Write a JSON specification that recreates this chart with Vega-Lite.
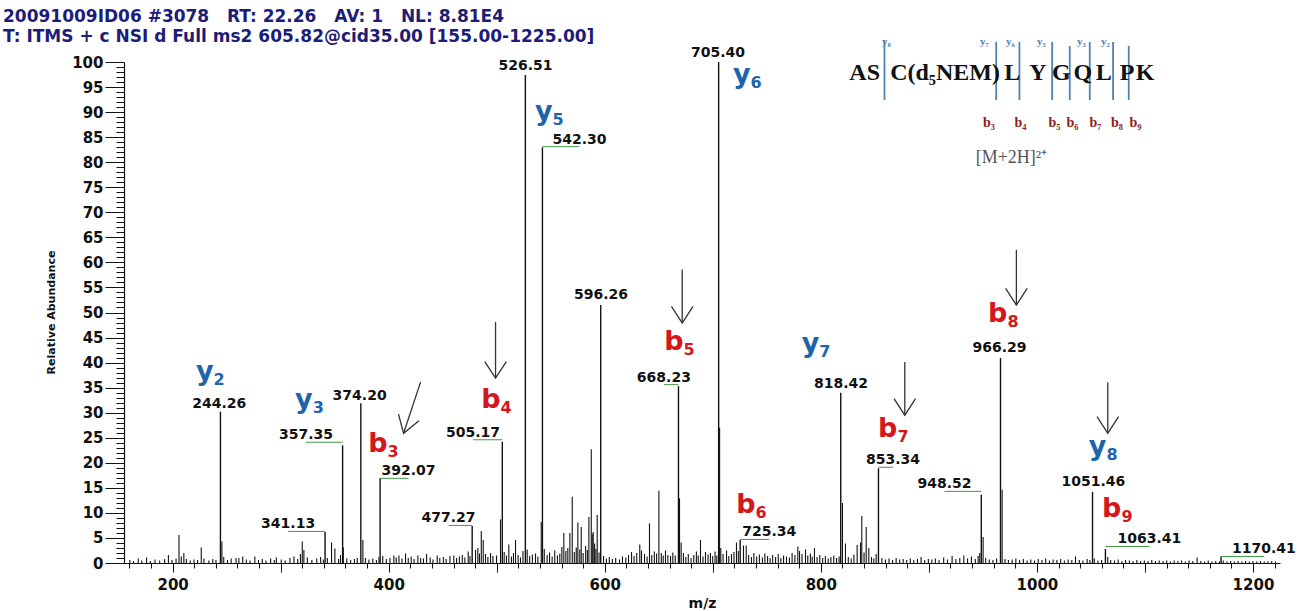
{
  "$schema": "https://vega.github.io/schema/vega-lite/v6.json",
  "width": 1156,
  "height": 501,
  "autosize": {"type": "none"},
  "padding": {"left": 124, "top": 62, "right": 35, "bottom": 48},
  "background": "white",
  "title": {
    "text": [
      "20091009ID06 #3078\u00a0\u00a0\u00a0RT: 22.26\u00a0\u00a0\u00a0AV: 1\u00a0\u00a0\u00a0NL: 8.81E4",
      "T: ITMS + c NSI d Full ms2 605.82@cid35.00 [155.00-1225.00]"
    ],
    "anchor": "start",
    "frame": "group",
    "dx": -121,
    "dy": 28,
    "offset": 18,
    "font": "DejaVu Sans",
    "fontSize": 17,
    "fontWeight": "bold",
    "color": "#1d1d78",
    "lineHeight": 20
  },
  "config": {
    "view": {"stroke": null},
    "axis": {"grid": false}
  },
  "datasets": {
    "noise": [
      {"mz": 160.4, "rel": 0.6}, {"mz": 163.8, "rel": 0.4}, {"mz": 168.2, "rel": 0.9}, {"mz": 171.5, "rel": 0.5},
      {"mz": 175.9, "rel": 1.1}, {"mz": 179.3, "rel": 0.4}, {"mz": 183.7, "rel": 0.7}, {"mz": 188.0, "rel": 0.5},
      {"mz": 192.6, "rel": 0.8}, {"mz": 196.1, "rel": 1.6}, {"mz": 199.4, "rel": 0.6}, {"mz": 203.2, "rel": 0.9},
      {"mz": 205.9, "rel": 5.6}, {"mz": 208.0, "rel": 1.3}, {"mz": 210.4, "rel": 2.0}, {"mz": 212.7, "rel": 0.8},
      {"mz": 216.3, "rel": 0.5}, {"mz": 219.8, "rel": 0.7}, {"mz": 223.1, "rel": 0.6}, {"mz": 226.5, "rel": 3.1},
      {"mz": 229.0, "rel": 0.9}, {"mz": 233.6, "rel": 0.5}, {"mz": 237.2, "rel": 0.8}, {"mz": 240.1, "rel": 0.6},
      {"mz": 245.6, "rel": 4.3}, {"mz": 247.3, "rel": 1.2}, {"mz": 250.8, "rel": 0.6}, {"mz": 254.2, "rel": 0.9},
      {"mz": 258.7, "rel": 1.0}, {"mz": 261.3, "rel": 1.0}, {"mz": 264.9, "rel": 1.3}, {"mz": 268.2, "rel": 0.7},
      {"mz": 271.6, "rel": 0.5}, {"mz": 276.1, "rel": 1.3}, {"mz": 279.5, "rel": 0.6}, {"mz": 283.0, "rel": 0.8},
      {"mz": 286.4, "rel": 0.5}, {"mz": 290.7, "rel": 0.9}, {"mz": 294.1, "rel": 0.6}, {"mz": 296.0, "rel": 1.1},
      {"mz": 300.5, "rel": 0.7}, {"mz": 304.2, "rel": 0.5}, {"mz": 308.6, "rel": 1.0}, {"mz": 312.3, "rel": 1.3},
      {"mz": 315.8, "rel": 0.8}, {"mz": 318.3, "rel": 1.8}, {"mz": 320.0, "rel": 4.3}, {"mz": 321.5, "rel": 2.6},
      {"mz": 324.7, "rel": 1.1}, {"mz": 328.9, "rel": 0.6}, {"mz": 333.4, "rel": 0.9}, {"mz": 337.0, "rel": 1.2},
      {"mz": 339.5, "rel": 0.7}, {"mz": 343.2, "rel": 1.0}, {"mz": 347.1, "rel": 4.1}, {"mz": 350.2, "rel": 2.9},
      {"mz": 353.6, "rel": 0.8}, {"mz": 355.4, "rel": 1.6}, {"mz": 358.0, "rel": 3.1}, {"mz": 361.2, "rel": 0.9},
      {"mz": 364.8, "rel": 0.6}, {"mz": 368.3, "rel": 0.8}, {"mz": 370.9, "rel": 1.0}, {"mz": 376.1, "rel": 4.6},
      {"mz": 378.4, "rel": 1.0}, {"mz": 381.7, "rel": 0.7}, {"mz": 385.3, "rel": 0.9}, {"mz": 388.6, "rel": 0.6},
      {"mz": 391.0, "rel": 1.2}, {"mz": 394.5, "rel": 1.4}, {"mz": 397.8, "rel": 0.8}, {"mz": 401.2, "rel": 1.0},
      {"mz": 404.8, "rel": 1.5}, {"mz": 407.0, "rel": 1.1}, {"mz": 409.5, "rel": 1.5}, {"mz": 412.3, "rel": 0.9},
      {"mz": 415.6, "rel": 1.9}, {"mz": 418.1, "rel": 1.0}, {"mz": 420.8, "rel": 1.3}, {"mz": 423.5, "rel": 0.8},
      {"mz": 427.0, "rel": 1.5}, {"mz": 429.6, "rel": 1.0}, {"mz": 432.2, "rel": 0.9}, {"mz": 435.1, "rel": 1.8},
      {"mz": 438.4, "rel": 1.1}, {"mz": 441.0, "rel": 0.7}, {"mz": 444.9, "rel": 1.5}, {"mz": 447.3, "rel": 1.0},
      {"mz": 450.6, "rel": 1.2}, {"mz": 453.2, "rel": 0.8}, {"mz": 456.7, "rel": 1.4}, {"mz": 460.3, "rel": 1.5},
      {"mz": 462.8, "rel": 1.0}, {"mz": 465.4, "rel": 1.3}, {"mz": 468.1, "rel": 1.6}, {"mz": 470.5, "rel": 1.1},
      {"mz": 473.6, "rel": 2.3}, {"mz": 475.2, "rel": 1.4}, {"mz": 480.4, "rel": 2.6}, {"mz": 482.5, "rel": 3.0},
      {"mz": 484.0, "rel": 1.9}, {"mz": 485.7, "rel": 6.4}, {"mz": 487.5, "rel": 4.6}, {"mz": 489.6, "rel": 1.8},
      {"mz": 491.8, "rel": 1.2}, {"mz": 494.3, "rel": 2.0}, {"mz": 496.5, "rel": 1.4}, {"mz": 499.8, "rel": 1.5},
      {"mz": 503.5, "rel": 8.7}, {"mz": 506.9, "rel": 2.2}, {"mz": 509.0, "rel": 1.5}, {"mz": 511.2, "rel": 3.7},
      {"mz": 513.6, "rel": 1.3}, {"mz": 515.5, "rel": 2.0}, {"mz": 517.4, "rel": 4.6}, {"mz": 519.8, "rel": 1.6},
      {"mz": 522.0, "rel": 1.1}, {"mz": 524.3, "rel": 2.4}, {"mz": 528.2, "rel": 2.7}, {"mz": 530.5, "rel": 1.4},
      {"mz": 533.0, "rel": 1.7}, {"mz": 535.9, "rel": 1.9}, {"mz": 538.1, "rel": 1.3}, {"mz": 541.2, "rel": 8.2},
      {"mz": 544.0, "rel": 2.8}, {"mz": 546.6, "rel": 1.6}, {"mz": 548.9, "rel": 2.1}, {"mz": 551.3, "rel": 1.3},
      {"mz": 553.7, "rel": 2.5}, {"mz": 556.2, "rel": 1.5}, {"mz": 558.4, "rel": 1.9}, {"mz": 560.3, "rel": 3.2},
      {"mz": 562.1, "rel": 6.0}, {"mz": 564.0, "rel": 2.4}, {"mz": 565.8, "rel": 3.0}, {"mz": 567.7, "rel": 6.0},
      {"mz": 569.9, "rel": 13.2}, {"mz": 571.8, "rel": 2.2}, {"mz": 573.6, "rel": 3.1}, {"mz": 575.1, "rel": 8.1},
      {"mz": 576.9, "rel": 2.7}, {"mz": 578.2, "rel": 7.2}, {"mz": 580.0, "rel": 2.0}, {"mz": 582.3, "rel": 3.4},
      {"mz": 583.9, "rel": 2.6}, {"mz": 585.3, "rel": 9.2}, {"mz": 587.5, "rel": 22.7}, {"mz": 588.4, "rel": 5.8},
      {"mz": 589.3, "rel": 6.2}, {"mz": 590.6, "rel": 3.9}, {"mz": 591.8, "rel": 2.8}, {"mz": 593.0, "rel": 9.6},
      {"mz": 594.7, "rel": 2.1}, {"mz": 598.9, "rel": 1.4}, {"mz": 601.5, "rel": 0.9}, {"mz": 604.2, "rel": 1.2},
      {"mz": 607.0, "rel": 0.8}, {"mz": 610.1, "rel": 1.0}, {"mz": 613.7, "rel": 0.7}, {"mz": 616.4, "rel": 1.3},
      {"mz": 619.5, "rel": 1.1}, {"mz": 622.0, "rel": 1.6}, {"mz": 624.8, "rel": 2.2}, {"mz": 627.1, "rel": 1.4},
      {"mz": 629.6, "rel": 2.0}, {"mz": 632.4, "rel": 3.7}, {"mz": 634.0, "rel": 2.5}, {"mz": 636.8, "rel": 1.8},
      {"mz": 639.2, "rel": 1.3}, {"mz": 641.4, "rel": 7.9}, {"mz": 643.5, "rel": 1.6}, {"mz": 645.9, "rel": 2.3},
      {"mz": 648.0, "rel": 1.9}, {"mz": 650.1, "rel": 14.4}, {"mz": 652.3, "rel": 2.0}, {"mz": 654.1, "rel": 1.5},
      {"mz": 656.2, "rel": 2.5}, {"mz": 658.4, "rel": 1.6}, {"mz": 660.9, "rel": 1.4}, {"mz": 663.0, "rel": 2.1},
      {"mz": 665.2, "rel": 1.5}, {"mz": 669.2, "rel": 12.9}, {"mz": 670.7, "rel": 4.1}, {"mz": 672.8, "rel": 2.0},
      {"mz": 675.0, "rel": 1.2}, {"mz": 677.3, "rel": 1.8}, {"mz": 679.9, "rel": 1.0}, {"mz": 682.4, "rel": 1.6},
      {"mz": 684.8, "rel": 2.3}, {"mz": 686.5, "rel": 1.5}, {"mz": 688.6, "rel": 4.6}, {"mz": 690.9, "rel": 1.3},
      {"mz": 693.2, "rel": 2.2}, {"mz": 695.6, "rel": 1.7}, {"mz": 697.8, "rel": 2.0}, {"mz": 699.9, "rel": 1.4},
      {"mz": 702.1, "rel": 2.3}, {"mz": 703.7, "rel": 1.5}, {"mz": 706.3, "rel": 27.0}, {"mz": 707.4, "rel": 3.0},
      {"mz": 709.5, "rel": 1.8}, {"mz": 712.7, "rel": 2.5}, {"mz": 714.8, "rel": 1.4}, {"mz": 717.3, "rel": 1.8},
      {"mz": 719.6, "rel": 2.2}, {"mz": 721.9, "rel": 4.1}, {"mz": 723.6, "rel": 2.4}, {"mz": 728.4, "rel": 3.5},
      {"mz": 730.9, "rel": 3.5}, {"mz": 733.2, "rel": 1.6}, {"mz": 735.8, "rel": 1.2}, {"mz": 738.0, "rel": 2.0},
      {"mz": 740.6, "rel": 1.3}, {"mz": 743.1, "rel": 1.7}, {"mz": 745.9, "rel": 1.1}, {"mz": 748.2, "rel": 1.9},
      {"mz": 750.7, "rel": 1.4}, {"mz": 753.0, "rel": 1.0}, {"mz": 755.4, "rel": 1.6}, {"mz": 758.1, "rel": 1.2},
      {"mz": 760.6, "rel": 1.8}, {"mz": 763.0, "rel": 1.0}, {"mz": 765.5, "rel": 1.5}, {"mz": 768.2, "rel": 1.3},
      {"mz": 770.9, "rel": 1.1}, {"mz": 773.4, "rel": 2.0}, {"mz": 776.0, "rel": 1.6}, {"mz": 778.7, "rel": 3.3},
      {"mz": 780.3, "rel": 2.4}, {"mz": 782.6, "rel": 1.8}, {"mz": 785.8, "rel": 2.7}, {"mz": 787.9, "rel": 1.5},
      {"mz": 790.3, "rel": 1.9}, {"mz": 792.0, "rel": 1.3}, {"mz": 794.1, "rel": 3.0}, {"mz": 796.5, "rel": 1.2},
      {"mz": 799.0, "rel": 1.6}, {"mz": 801.7, "rel": 1.0}, {"mz": 804.2, "rel": 1.4}, {"mz": 806.8, "rel": 0.9},
      {"mz": 809.3, "rel": 1.2}, {"mz": 812.0, "rel": 1.5}, {"mz": 814.6, "rel": 1.0}, {"mz": 816.9, "rel": 1.3},
      {"mz": 820.0, "rel": 12.0}, {"mz": 822.8, "rel": 3.9}, {"mz": 825.4, "rel": 1.2}, {"mz": 828.1, "rel": 0.9},
      {"mz": 830.6, "rel": 1.7}, {"mz": 833.6, "rel": 3.6}, {"mz": 836.7, "rel": 4.1}, {"mz": 837.9, "rel": 9.4},
      {"mz": 840.0, "rel": 2.1}, {"mz": 842.0, "rel": 7.2}, {"mz": 844.4, "rel": 3.0}, {"mz": 846.9, "rel": 1.2},
      {"mz": 849.0, "rel": 0.9}, {"mz": 851.2, "rel": 1.8}, {"mz": 856.5, "rel": 1.0}, {"mz": 859.8, "rel": 0.7},
      {"mz": 863.1, "rel": 0.9}, {"mz": 866.4, "rel": 0.6}, {"mz": 869.7, "rel": 1.0}, {"mz": 873.0, "rel": 0.7},
      {"mz": 876.2, "rel": 0.8}, {"mz": 879.5, "rel": 0.6}, {"mz": 882.8, "rel": 0.9}, {"mz": 886.0, "rel": 0.6},
      {"mz": 889.4, "rel": 0.8}, {"mz": 892.8, "rel": 1.2}, {"mz": 896.1, "rel": 0.6}, {"mz": 899.5, "rel": 0.8},
      {"mz": 902.7, "rel": 0.7}, {"mz": 906.0, "rel": 0.9}, {"mz": 909.4, "rel": 0.6}, {"mz": 913.7, "rel": 1.1},
      {"mz": 917.2, "rel": 0.7}, {"mz": 921.5, "rel": 1.4}, {"mz": 925.0, "rel": 0.8}, {"mz": 928.6, "rel": 1.0},
      {"mz": 932.3, "rel": 1.5}, {"mz": 935.8, "rel": 0.9}, {"mz": 939.4, "rel": 1.3}, {"mz": 943.0, "rel": 0.8},
      {"mz": 945.6, "rel": 1.4}, {"mz": 947.1, "rel": 2.0}, {"mz": 950.2, "rel": 5.2}, {"mz": 952.6, "rel": 1.0},
      {"mz": 955.9, "rel": 0.7}, {"mz": 959.3, "rel": 0.6}, {"mz": 962.7, "rel": 0.9}, {"mz": 967.8, "rel": 14.6},
      {"mz": 970.4, "rel": 0.8}, {"mz": 973.6, "rel": 0.6}, {"mz": 977.1, "rel": 0.7}, {"mz": 980.5, "rel": 0.9},
      {"mz": 984.0, "rel": 0.6}, {"mz": 987.4, "rel": 0.8}, {"mz": 990.9, "rel": 0.5}, {"mz": 994.3, "rel": 0.7},
      {"mz": 997.8, "rel": 0.5}, {"mz": 1001.2, "rel": 0.8}, {"mz": 1004.7, "rel": 0.6}, {"mz": 1008.1, "rel": 0.9},
      {"mz": 1011.6, "rel": 0.5}, {"mz": 1015.0, "rel": 0.7}, {"mz": 1018.5, "rel": 0.6}, {"mz": 1022.0, "rel": 0.8},
      {"mz": 1025.4, "rel": 0.5}, {"mz": 1028.9, "rel": 0.7}, {"mz": 1032.3, "rel": 0.6}, {"mz": 1035.7, "rel": 1.3},
      {"mz": 1039.2, "rel": 0.6}, {"mz": 1042.6, "rel": 0.5}, {"mz": 1046.5, "rel": 0.8}, {"mz": 1049.0, "rel": 0.6},
      {"mz": 1053.1, "rel": 0.9}, {"mz": 1056.5, "rel": 0.5}, {"mz": 1059.9, "rel": 0.6}, {"mz": 1065.6, "rel": 1.2},
      {"mz": 1068.3, "rel": 0.6}, {"mz": 1071.8, "rel": 0.5}, {"mz": 1075.2, "rel": 0.7}, {"mz": 1078.7, "rel": 0.4},
      {"mz": 1082.1, "rel": 0.6}, {"mz": 1085.6, "rel": 0.5}, {"mz": 1089.0, "rel": 0.4}, {"mz": 1092.5, "rel": 0.6},
      {"mz": 1096.0, "rel": 0.4}, {"mz": 1099.4, "rel": 0.5}, {"mz": 1102.9, "rel": 0.4}, {"mz": 1106.3, "rel": 0.6},
      {"mz": 1109.8, "rel": 0.4}, {"mz": 1113.2, "rel": 0.5}, {"mz": 1116.7, "rel": 0.4}, {"mz": 1120.1, "rel": 0.5},
      {"mz": 1123.6, "rel": 0.3}, {"mz": 1127.0, "rel": 0.5}, {"mz": 1130.5, "rel": 0.4}, {"mz": 1133.9, "rel": 0.5},
      {"mz": 1137.4, "rel": 0.3}, {"mz": 1140.8, "rel": 0.5}, {"mz": 1144.3, "rel": 0.4}, {"mz": 1148.3, "rel": 1.1},
      {"mz": 1151.7, "rel": 0.4}, {"mz": 1155.2, "rel": 0.3}, {"mz": 1158.6, "rel": 0.5}, {"mz": 1162.1, "rel": 0.3},
      {"mz": 1165.5, "rel": 0.4}, {"mz": 1169.0, "rel": 0.3}, {"mz": 1172.4, "rel": 0.5}, {"mz": 1175.9, "rel": 0.3},
      {"mz": 1179.3, "rel": 0.4}, {"mz": 1182.8, "rel": 0.3}, {"mz": 1186.2, "rel": 0.4}, {"mz": 1189.7, "rel": 0.3},
      {"mz": 1193.1, "rel": 0.4}, {"mz": 1196.6, "rel": 0.3}, {"mz": 1200.0, "rel": 0.4}, {"mz": 1203.5, "rel": 0.3},
      {"mz": 1206.9, "rel": 0.4}, {"mz": 1210.4, "rel": 0.3}, {"mz": 1213.8, "rel": 0.3}, {"mz": 1217.3, "rel": 0.4},
      {"mz": 1220.7, "rel": 0.3}
    ],
    "labeled": [
      {"mz": 244.26, "rel": 30.2}, {"mz": 341.13, "rel": 6.2}, {"mz": 357.35, "rel": 23.5},
      {"mz": 374.20, "rel": 31.9}, {"mz": 392.07, "rel": 16.9}, {"mz": 477.27, "rel": 7.4},
      {"mz": 505.17, "rel": 24.2}, {"mz": 526.51, "rel": 97.4}, {"mz": 542.30, "rel": 83.0},
      {"mz": 596.26, "rel": 51.5}, {"mz": 668.23, "rel": 35.3}, {"mz": 705.40, "rel": 100.0},
      {"mz": 725.34, "rel": 4.6}, {"mz": 818.42, "rel": 34.0}, {"mz": 853.34, "rel": 18.9},
      {"mz": 948.52, "rel": 13.6}, {"mz": 966.29, "rel": 40.9}, {"mz": 1051.46, "rel": 14.2},
      {"mz": 1063.41, "rel": 2.8}, {"mz": 1170.41, "rel": 1.3}
    ],
    "peaklabels": [
      {"peak": 244.26, "mz": 243.1, "rel": 30.4},
      {"peak": 341.13, "mz": 306.9, "rel": 6.3},
      {"peak": 357.35, "mz": 323.4, "rel": 24.1},
      {"peak": 374.20, "mz": 373.1, "rel": 32.0},
      {"peak": 392.07, "mz": 418.4, "rel": 16.9},
      {"peak": 477.27, "mz": 455.4, "rel": 7.5},
      {"peak": 505.17, "mz": 478.1, "rel": 24.6},
      {"peak": 526.51, "mz": 526.7, "rel": 97.9},
      {"peak": 542.30, "mz": 576.6, "rel": 83.1},
      {"peak": 596.26, "mz": 596.5, "rel": 52.0},
      {"peak": 668.23, "mz": 654.7, "rel": 35.6},
      {"peak": 705.40, "mz": 704.8, "rel": 100.3},
      {"peak": 725.34, "mz": 752.2, "rel": 4.7},
      {"peak": 818.42, "mz": 818.6, "rel": 34.4},
      {"peak": 853.34, "mz": 866.8, "rel": 19.1},
      {"peak": 948.52, "mz": 914.4, "rel": 14.3},
      {"peak": 966.29, "mz": 965.3, "rel": 41.6},
      {"peak": 1051.46, "mz": 1052.3, "rel": 14.7},
      {"peak": 1063.41, "mz": 1104.1, "rel": 3.3},
      {"peak": 1170.41, "mz": 1210.1, "rel": 1.3}
    ],
    "ions": [
      {"ion": "y", "n": "2", "mz": 237.9, "rel": 36.5},
      {"ion": "y", "n": "3", "mz": 329.6, "rel": 30.9},
      {"ion": "b", "n": "3", "mz": 399.0, "rel": 22.2},
      {"ion": "b", "n": "4", "mz": 503.5, "rel": 30.9},
      {"ion": "y", "n": "5", "mz": 551.7, "rel": 88.4},
      {"ion": "y", "n": "6", "mz": 734.9, "rel": 95.8},
      {"ion": "b", "n": "5", "mz": 672.9, "rel": 42.5},
      {"ion": "b", "n": "6", "mz": 739.5, "rel": 10.0},
      {"ion": "y", "n": "7", "mz": 798.6, "rel": 42.1},
      {"ion": "b", "n": "7", "mz": 870.9, "rel": 25.1},
      {"ion": "b", "n": "8", "mz": 972.7, "rel": 48.1},
      {"ion": "y", "n": "8", "mz": 1064.3, "rel": 21.6},
      {"ion": "b", "n": "9", "mz": 1078.2, "rel": 9.2}
    ],
    "arrows": [
      {"mz": 429.5, "rel": 36.1, "mz2": 413.8, "rel2": 25.9},
      {"mz": 498.9, "rel": 48.1, "mz2": 498.9, "rel2": 36.9},
      {"mz": 671.7, "rel": 58.6, "mz2": 671.7, "rel2": 47.9},
      {"mz": 877.7, "rel": 40.1, "mz2": 877.7, "rel2": 29.5},
      {"mz": 981.0, "rel": 62.5, "mz2": 981.0, "rel2": 51.5},
      {"mz": 1065.6, "rel": 36.1, "mz2": 1065.6, "rel2": 25.9}
    ],
    "heads": [
      {"mz": 413.8, "rel": 25.9, "ang": 18},
      {"mz": 498.9, "rel": 36.9, "ang": 0},
      {"mz": 671.7, "rel": 47.9, "ang": 0},
      {"mz": 877.7, "rel": 29.5, "ang": 0},
      {"mz": 981.0, "rel": 51.5, "ang": 0},
      {"mz": 1065.6, "rel": 25.9, "ang": 0}
    ],
    "peptide": [
      {"t": "AS", "mz": 840.6, "rel": 96.4},
      {"t": "C(d₅NEM)", "mz": 915.0, "rel": 96.4},
      {"t": "L", "mz": 977.2, "rel": 96.4},
      {"t": "Y", "mz": 1000.9, "rel": 96.4},
      {"t": "G", "mz": 1022.5, "rel": 96.4},
      {"t": "Q", "mz": 1042.6, "rel": 96.4},
      {"t": "L", "mz": 1061.8, "rel": 96.4},
      {"t": "P", "mz": 1083.5, "rel": 96.4},
      {"t": "K", "mz": 1100.1, "rel": 96.4}
    ],
    "cuts": [
      {"mz": 858.9, "rel": 104.4, "rel2": 92.4}, {"mz": 962.3, "rel": 104.0, "rel2": 92.4},
      {"mz": 983.8, "rel": 104.0, "rel2": 92.4}, {"mz": 1014.1, "rel": 104.0, "rel2": 92.4},
      {"mz": 1030.4, "rel": 103.2, "rel2": 92.4}, {"mz": 1048.9, "rel": 104.0, "rel2": 92.4},
      {"mz": 1070.5, "rel": 104.0, "rel2": 92.4}, {"mz": 1085.0, "rel": 103.2, "rel2": 92.4}
    ],
    "cutlabels": [
      {"kind": "y", "t": "y₈", "mz": 860.7, "rel": 103.4},
      {"kind": "y", "t": "y₇", "mz": 951.4, "rel": 103.4},
      {"kind": "y", "t": "y₆", "mz": 975.5, "rel": 103.4},
      {"kind": "y", "t": "y₅", "mz": 1004.2, "rel": 103.4},
      {"kind": "y", "t": "y₃", "mz": 1041.2, "rel": 103.4},
      {"kind": "y", "t": "y₂", "mz": 1063.4, "rel": 103.4},
      {"kind": "b", "t": "b₃", "mz": 955.6, "rel": 87.0},
      {"kind": "b", "t": "b₄", "mz": 984.7, "rel": 87.0},
      {"kind": "b", "t": "b₅", "mz": 1016.2, "rel": 87.0},
      {"kind": "b", "t": "b₆", "mz": 1032.9, "rel": 87.0},
      {"kind": "b", "t": "b₇", "mz": 1054.2, "rel": 87.0},
      {"kind": "b", "t": "b₈", "mz": 1074.1, "rel": 87.0},
      {"kind": "b", "t": "b₉", "mz": 1091.2, "rel": 87.0}
    ],
    "precursor": [
      {"t": "[M+2H]²⁺", "mz": 976.4, "rel": 79.8}
    ]
  },
  "encoding": {
    "x": {
      "field": "mz", "type": "quantitative", "title": "m/z",
      "scale": {"domain": [155, 1225], "nice": false, "zero": false},
      "axis": {
        "values": [160,180,200,220,240,260,280,300,320,340,360,380,400,420,440,460,480,500,520,540,560,580,600,620,640,660,680,700,720,740,760,780,800,820,840,860,880,900,920,940,960,980,1000,1020,1040,1060,1080,1100,1120,1140,1160,1180,1200,1220],
        "labelExpr": "datum.value % 200 === 0 ? datum.label : ''",
        "format": "d",
        "labelOverlap": false,
        "labelFlush": false,
        "tickSize": {"condition": {"test": "datum.value % 100 === 0", "value": 9}, "value": 5},
        "tickColor": "#111111",
        "tickWidth": 1,
        "domainColor": "#111111",
        "domainWidth": 1.2,
        "labelFont": "DejaVu Sans",
        "labelFontSize": 15,
        "labelFontWeight": "bold",
        "labelColor": "#111111",
        "labelPadding": 5,
        "titleFont": "DejaVu Sans",
        "titleFontSize": 14,
        "titleFontWeight": "bold",
        "titleColor": "#111111",
        "titlePadding": 4
      }
    },
    "y": {
      "field": "rel", "type": "quantitative", "title": "Relative Abundance",
      "scale": {"domain": [0, 100], "nice": false, "zero": false},
      "axis": {
        "values": [0,1,2,3,4,5,6,7,8,9,10,11,12,13,14,15,16,17,18,19,20,21,22,23,24,25,26,27,28,29,30,31,32,33,34,35,36,37,38,39,40,41,42,43,44,45,46,47,48,49,50,51,52,53,54,55,56,57,58,59,60,61,62,63,64,65,66,67,68,69,70,71,72,73,74,75,76,77,78,79,80,81,82,83,84,85,86,87,88,89,90,91,92,93,94,95,96,97,98,99,100],
        "labelExpr": "datum.value % 5 === 0 ? datum.label : ''",
        "format": "d",
        "labelOverlap": false,
        "labelFlush": false,
        "tickSize": {"condition": {"test": "datum.value % 5 === 0", "value": 19}, "value": 8},
        "tickColor": "#111111",
        "tickWidth": 1,
        "domainColor": "#111111",
        "domainWidth": 1.2,
        "labelFont": "DejaVu Sans",
        "labelFontSize": 15,
        "labelFontWeight": "bold",
        "labelColor": "#111111",
        "labelPadding": 2,
        "titleFont": "DejaVu Sans",
        "titleFontSize": 11,
        "titleFontWeight": "bold",
        "titleColor": "#111111",
        "titleX": -68,
        "titleY": 250
      }
    }
  },
  "layer": [
    {
      "data": {"name": "noise"},
      "mark": {"type": "rule", "color": "#111111", "strokeWidth": 1.1},
      "encoding": {"y2": {"datum": 0}}
    },
    {
      "data": {"name": "labeled"},
      "mark": {"type": "rule", "color": "#111111", "strokeWidth": 1.4},
      "encoding": {"y2": {"datum": 0}}
    },
    {
      "data": {"name": "peaklabels"},
      "transform": [{"filter": "abs(datum.mz - datum.peak) > 6"}],
      "mark": {"type": "rule", "color": "#3f9a45", "strokeWidth": 1},
      "encoding": {"x2": {"field": "peak"}}
    },
    {
      "data": {"name": "peaklabels"},
      "mark": {"type": "text", "font": "DejaVu Sans", "fontSize": 14, "fontWeight": "bold", "color": "#111111", "align": "center", "baseline": "bottom"},
      "encoding": {"text": {"field": "peak", "type": "quantitative", "format": ".2f"}}
    },
    {
      "data": {"name": "ions"},
      "mark": {"type": "text", "font": "DejaVu Sans", "fontSize": 27, "fontWeight": "bold", "align": "right", "baseline": "alphabetic"},
      "encoding": {
        "text": {"field": "ion"},
        "color": {"field": "ion", "type": "nominal", "scale": {"domain": ["y", "b"], "range": ["#1f63ab", "#d3171c"]}, "legend": null}
      }
    },
    {
      "data": {"name": "ions"},
      "mark": {"type": "text", "font": "DejaVu Sans", "fontSize": 16, "fontWeight": "bold", "align": "left", "baseline": "alphabetic", "dy": 5},
      "encoding": {
        "text": {"field": "n"},
        "color": {"field": "ion", "type": "nominal", "scale": {"domain": ["y", "b"], "range": ["#1f63ab", "#d3171c"]}, "legend": null}
      }
    },
    {
      "data": {"name": "arrows"},
      "mark": {"type": "rule", "color": "#333333", "strokeWidth": 1.3},
      "encoding": {"x2": {"field": "mz2"}, "y2": {"field": "rel2"}}
    },
    {
      "data": {"name": "heads"},
      "mark": {"type": "point", "shape": "M-0.65,-1L0,0L0.65,-1", "filled": false, "stroke": "#333333", "strokeWidth": 1.3, "size": 1100, "opacity": 1},
      "encoding": {"angle": {"field": "ang", "type": "quantitative", "scale": null}}
    },
    {
      "data": {"name": "cuts"},
      "mark": {"type": "rule", "color": "#4f82b5", "strokeWidth": 1.8},
      "encoding": {"y2": {"field": "rel2"}}
    },
    {
      "data": {"name": "peptide"},
      "mark": {"type": "text", "font": "Liberation Serif", "fontSize": 24, "fontWeight": "bold", "color": "#111111", "align": "center", "baseline": "alphabetic"},
      "encoding": {"text": {"field": "t"}}
    },
    {
      "data": {"name": "cutlabels"},
      "transform": [{"filter": "datum.kind === 'y'"}],
      "mark": {"type": "text", "font": "Liberation Serif", "fontSize": 11, "fontWeight": "bold", "color": "#4f82b5", "align": "center", "baseline": "alphabetic"},
      "encoding": {"text": {"field": "t"}}
    },
    {
      "data": {"name": "cutlabels"},
      "transform": [{"filter": "datum.kind === 'b'"}],
      "mark": {"type": "text", "font": "Liberation Serif", "fontSize": 14, "fontWeight": "bold", "color": "#8e1b1b", "align": "center", "baseline": "alphabetic"},
      "encoding": {"text": {"field": "t"}}
    },
    {
      "data": {"name": "precursor"},
      "mark": {"type": "text", "font": "Liberation Serif", "fontSize": 18, "color": "#555555", "align": "center", "baseline": "alphabetic"},
      "encoding": {"text": {"field": "t"}}
    }
  ]
}
